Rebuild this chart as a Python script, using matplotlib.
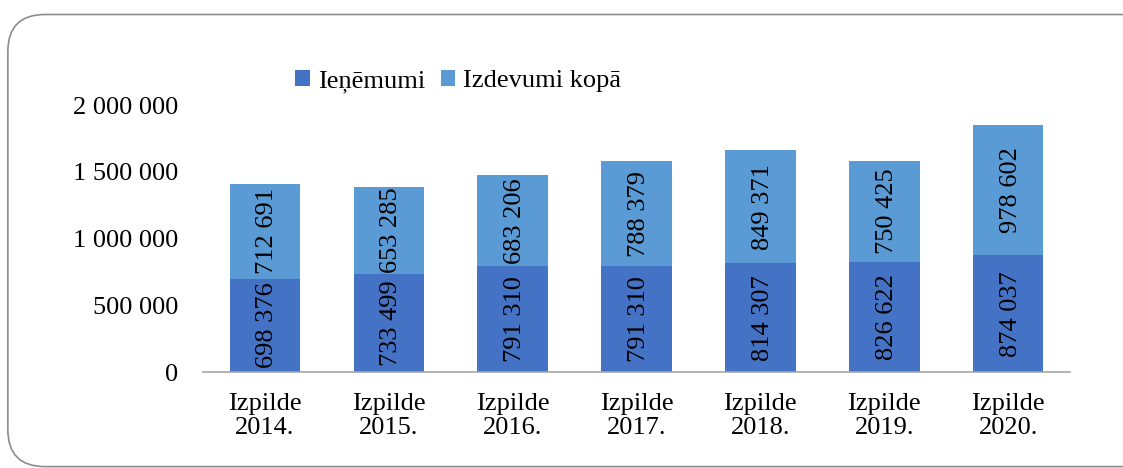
import numpy as np
import matplotlib.pyplot as plt
from matplotlib.patches import FancyBboxPatch

plt.rcParams['font.family'] = ['Liberation Serif', 'DejaVu Serif']

years = ['2014.', '2015.', '2016.', '2017.', '2018.', '2019.', '2020.']
ienemumi = [698376, 733499, 791310, 791310, 814307, 826622, 874037]
izdevumi = [712691, 653285, 683206, 788379, 849371, 750425, 978602]
series_names = ['Ieņēmumi', 'Izdevumi kopā']
colors = ['#4472C4', '#5B9BD5']


def fmt(v):
    return f'{v:,.0f}'.replace(',', ' ')


fig = plt.figure(figsize=(11.23, 4.68), dpi=100)

# rounded frame round the chart
frame = FancyBboxPatch((0.007, 0.003), 1.05, 0.966, boxstyle='round,pad=0,rounding_size=0.033',
                       transform=fig.transFigure, facecolor='none', edgecolor='#8c8c8c',
                       linewidth=1.2, mutation_aspect=2.4, zorder=-1)
fig.patches.append(frame)

ax = fig.add_axes([0.1808, 0.2051, 0.772, 0.5705])
x = np.arange(len(years))
width = 0.57
b1 = ax.bar(x, ienemumi, width, color=colors[0], label=series_names[0])
b2 = ax.bar(x, izdevumi, width, bottom=ienemumi, color=colors[1], label=series_names[1])

for i in range(len(years)):
    ax.text(x[i] + 0.02, ienemumi[i] / 2, fmt(ienemumi[i]), rotation=90,
            ha='center', va='center', fontsize=19, color='black')
    ax.text(x[i] + 0.02, ienemumi[i] + izdevumi[i] / 2, fmt(izdevumi[i]), rotation=90,
            ha='center', va='center', fontsize=19, color='black')

ax.set_xlim(-0.5, len(years) - 0.5)
ax.set_ylim(0, 2000000)
ax.set_yticks([0, 500000, 1000000, 1500000, 2000000])
ax.set_yticklabels([fmt(v) for v in [0, 500000, 1000000, 1500000, 2000000]], fontsize=19)
ax.set_xticks(x)
ax.set_xticklabels(['Izpilde\n' + y for y in years], fontsize=19, linespacing=1.15)
ax.tick_params(axis='both', length=0)
ax.tick_params(axis='y', pad=18)
ax.tick_params(axis='x', pad=15)
for s in ['top', 'right', 'left']:
    ax.spines[s].set_visible(False)
ax.spines['bottom'].set_color('#a6a6a6')
ax.spines['bottom'].set_linewidth(1.2)
ax.patch.set_alpha(0)

fig.legend(handles=[b1, b2], labels=series_names, loc='center', bbox_to_anchor=(0.408, 0.826),
           ncol=2, frameon=False, fontsize=19, handlelength=0.55, handleheight=0.55,
           handletextpad=0.3, columnspacing=0.6)

fig.savefig('out.png', dpi=100)
